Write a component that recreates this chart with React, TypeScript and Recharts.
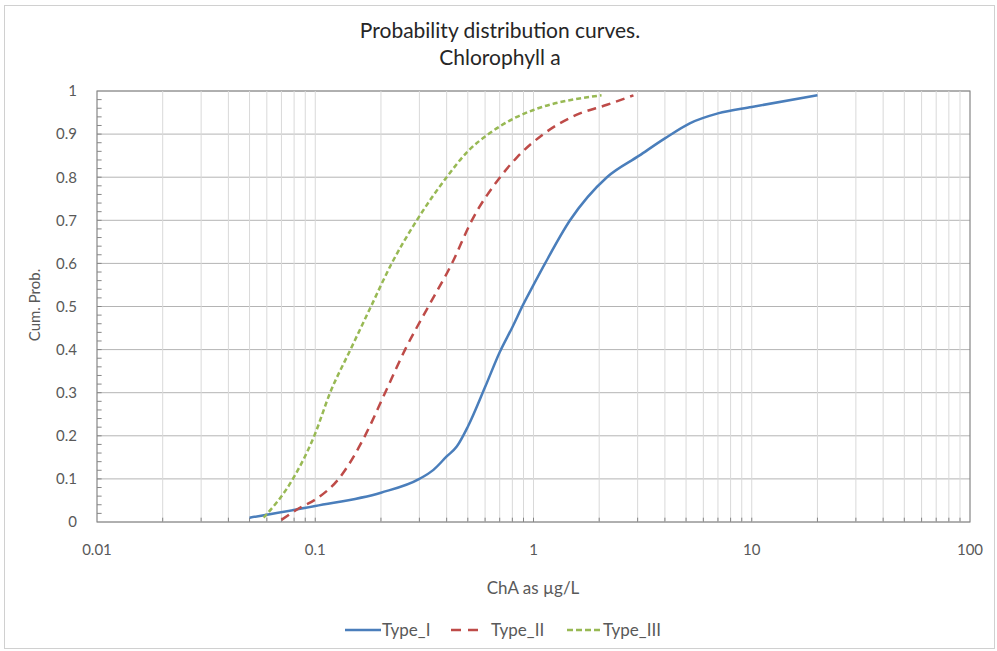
import {
  CartesianGrid,
  Line,
  LineChart,
  ReferenceArea,
  ReferenceLine,
  XAxis,
  YAxis,
} from 'recharts';

const typeIConc = [0.05, 0.1, 0.2, 0.3, 0.348, 0.4, 0.445, 0.5, 0.6, 0.7, 0.8, 0.9, 1.0, 1.13, 1.47, 2.17, 3.05, 4, 5.2, 7, 10, 20];
const typeIProb = [0.01, 0.037, 0.068, 0.1, 0.121, 0.152, 0.175, 0.221, 0.313, 0.394, 0.452, 0.506, 0.55, 0.6, 0.7, 0.8, 0.85, 0.89, 0.925, 0.948, 0.963, 0.99];

const typeIIConc = [0.07, 0.085, 0.1, 0.128, 0.169, 0.209, 0.258, 0.33, 0.423, 0.522, 0.703, 0.84, 1.11, 1.58, 2.17, 2.87];
const typeIIProb = [0.005, 0.033, 0.052, 0.1, 0.2, 0.3, 0.4, 0.5, 0.6, 0.7, 0.8, 0.846, 0.9, 0.945, 0.968, 0.99];

const typeIIIConc = [0.058, 0.079, 0.099, 0.117, 0.145, 0.18, 0.224, 0.292, 0.4, 0.5, 0.622, 0.84, 1.0, 2.05];
const typeIIIProb = [0.01, 0.1, 0.2, 0.3, 0.4, 0.5, 0.6, 0.7, 0.8, 0.86, 0.9, 0.94, 0.956, 0.99];

const majorX = [0.01, 0.1, 1, 10, 100];
const gridX = [
  0.02, 0.03, 0.04, 0.05, 0.06, 0.07, 0.08, 0.09,
  0.1, 0.2, 0.3, 0.4, 0.5, 0.6, 0.7, 0.8, 0.9,
  1, 2, 3, 4, 5, 6, 7, 8, 9,
  10, 20, 30, 40, 50, 60, 70, 80, 90,
];
const majorY = [0, 0.1, 0.2, 0.3, 0.4, 0.5, 0.6, 0.7, 0.8, 0.9, 1];
const minorY = [
  0.02, 0.04, 0.06, 0.08, 0.1, 0.12, 0.14, 0.16, 0.18, 0.2, 0.22, 0.24, 0.26, 0.28, 0.3,
  0.32, 0.34, 0.36, 0.38, 0.4, 0.42, 0.44, 0.46, 0.48, 0.5, 0.52, 0.54, 0.56, 0.58, 0.6,
  0.62, 0.64, 0.66, 0.68, 0.7, 0.72, 0.74, 0.76, 0.78, 0.8, 0.82, 0.84, 0.86, 0.88, 0.9,
  0.92, 0.94, 0.96, 0.98,
];

const toPoints = (conc: number[], prob: number[]) =>
  conc.map((c, i) => ({ conc: c, prob: prob[i] }));

const series = [
  { name: 'Type_I', data: toPoints(typeIConc, typeIProb), color: '#4a7ebb', dash: undefined, sample: undefined, lineX: 345, lineW: 36, textX: 382 },
  { name: 'Type_II', data: toPoints(typeIIConc, typeIIProb), color: '#be4b48', dash: '9 6', sample: '10 7', lineX: 451, lineW: 27, textX: 491 },
  { name: 'Type_III', data: toPoints(typeIIIConc, typeIIIProb), color: '#98b954', dash: '5 3', sample: '6 3', lineX: 567, lineW: 33, textX: 603 },
];

const font = 'Lato, "Open Sans", sans-serif';
const textColor = '#595959';
const axisColor = '#868686';

export default function App() {
  return (
    <div
      style={{
        position: 'absolute',
        left: 0,
        top: 0,
        width: 997,
        height: 651,
        background: '#fff',
        fontFamily: font,
      }}
    >
      <div
        style={{
          position: 'absolute',
          left: 4,
          top: 5,
          width: 989,
          height: 642,
          border: '1px solid #d0d0d0',
        }}
      />
      <div
        style={{
          position: 'absolute',
          left: 0,
          width: 1000,
          top: 16,
          textAlign: 'center',
          fontSize: 21,
          lineHeight: '27px',
          color: '#262626',
        }}
      >
        Probability distribution curves.
        <br />
        Chlorophyll a
      </div>

      <div style={{ position: 'absolute', left: 0, top: 0 }}>
        <LineChart width={997} height={651} margin={{ top: 91, right: 27, bottom: 89, left: 37 }}>
          <CartesianGrid vertical={false} stroke="#b4b4b4" />
          {gridX.map((v) => (
            <ReferenceLine key={`gx${v}`} x={v} stroke="#d9d9d9" />
          ))}
          {gridX.map((v) => (
            <ReferenceLine
              key={`tx${v}`}
              segment={[{ x: v, y: 0 }, { x: v, y: 0.01 }]}
              stroke={axisColor}
            />
          ))}
          {minorY.map((v) => (
            <ReferenceLine
              key={`ty${v}`}
              segment={[{ x: 0.01, y: v }, { x: 0.0105, y: v }]}
              stroke={axisColor}
            />
          ))}
          <XAxis
            dataKey="conc"
            type="number"
            scale="log"
            domain={[0.01, 100]}
            ticks={majorX}
            allowDataOverflow
            height={40}
            axisLine={false}
            tickLine={false}
            tickSize={0}
            tickMargin={22}
            tick={{ fill: textColor, fontSize: 15, fontFamily: font }}
          />
          <YAxis
            type="number"
            domain={[0, 1]}
            ticks={majorY}
            width={60}
            axisLine={false}
            tickLine={false}
            tickSize={0}
            tickMargin={20}
            tick={{ fill: textColor, fontSize: 15, fontFamily: font }}
          />
          <ReferenceArea x1={0.01} x2={100} y1={0} y2={1} fill="none" stroke={axisColor} strokeWidth={1.2} />
          {series.map((s) => (
            <Line
              key={s.name}
              data={s.data}
              dataKey="prob"
              name={s.name}
              type="monotone"
              stroke={s.color}
              strokeWidth={2.5}
              strokeDasharray={s.dash}
              dot={false}
              isAnimationActive={false}
            />
          ))}
        </LineChart>
      </div>

      <div
        style={{
          position: 'absolute',
          left: 34,
          top: 305,
          transform: 'translate(-50%, -50%) rotate(-90deg)',
          fontSize: 15,
          color: textColor,
          whiteSpace: 'nowrap',
        }}
      >
        Cum. Prob.
      </div>
      <div
        style={{
          position: 'absolute',
          left: 0,
          width: 1066,
          top: 577,
          textAlign: 'center',
          fontSize: 17,
          color: textColor,
        }}
      >
        ChA as µg/L
      </div>

      {series.map((s) => (
        <div key={s.name}>
          <svg
            width={s.lineW}
            height={10}
            style={{ position: 'absolute', left: s.lineX, top: 625 }}
          >
            <line x1={0} y1={5} x2={s.lineW} y2={5} stroke={s.color} strokeWidth={2.5} strokeDasharray={s.sample} />
          </svg>
          <span
            style={{
              position: 'absolute',
              left: s.textX,
              top: 619,
              fontSize: 17,
              color: textColor,
              whiteSpace: 'nowrap',
            }}
          >
            {s.name}
          </span>
        </div>
      ))}
    </div>
  );
}
